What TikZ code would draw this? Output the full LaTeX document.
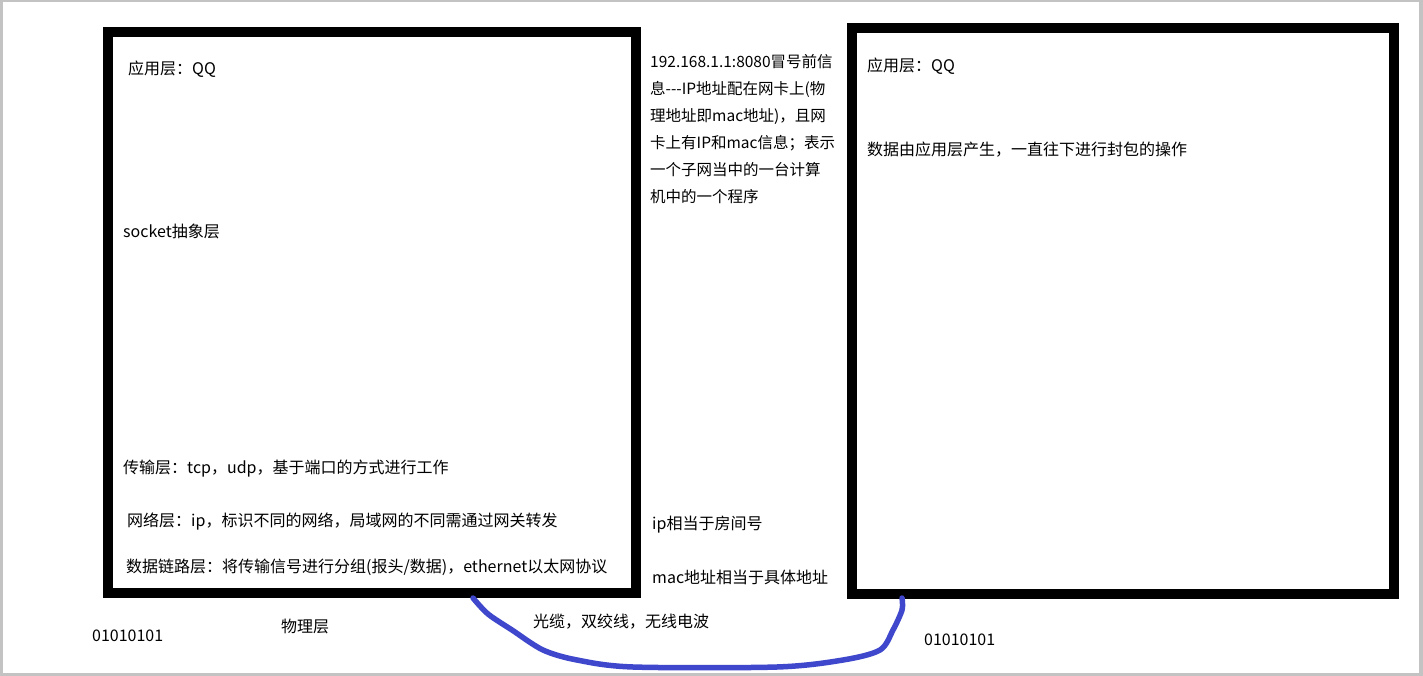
\documentclass[tikz,border=0pt]{standalone}
\usepackage{fontspec}
\setmainfont{Noto Sans CJK SC}
\definecolor{framegray}{RGB}{195,195,195}
\definecolor{wireblue}{RGB}{63,72,204}
\begin{document}
\begin{tikzpicture}[x=1pt,y=-1pt,
  txt/.style={anchor=base west,inner sep=0pt,font=\fontsize{16}{18}\selectfont},
  midtxt/.style={txt,font=\fontsize{15.5}{18}\selectfont},
  layerbox/.style={draw=black,line width=10pt,inner sep=0pt,rectangle},
  wire/.style={draw=wireblue,line width=5.5pt,line cap=round,line join=round}]
\useasboundingbox (0,0) rectangle (1423,676);
\fill[framegray] (0,0) rectangle (1423,676);
\fill[white] (3,2) rectangle (1419,673);
% boxes
\node[layerbox,minimum width=528pt,minimum height=561pt] (box1) at (372,312.5) {};
\node[layerbox,minimum width=542pt,minimum height=565.5pt] (box2) at (1123,311.25) {};
% left box texts
\node[txt] (l1) at (128,75) {应用层：QQ};
\node[txt] (l2) at (123,237) {socket抽象层};
\node[txt] (l3) at (123,473) {传输层：tcp，udp，基于端口的方式进行工作};
\node[txt] (l4) at (127,526) {网络层：ip，标识不同的网络，局域网的不同需通过网关转发};
\node[txt] (l5) at (126,572) {数据链路层：将传输信号进行分组(报头/数据)，ethernet以太网协议};
\node[txt] (b1) at (92,641) {01010101};
\node[txt] (ph) at (281,632) {物理层};
% middle texts
\node[midtxt] (m1) at (650,68) {192.168.1.1:8080冒号前信};
\node[midtxt] (m2) at (650,95) {息-{}-{}-IP地址配在网卡上(物};
\node[midtxt] (m3) at (650,122) {理地址即mac地址)，且网};
\node[midtxt] (m4) at (650,149) {卡上有IP和mac信息；表示};
\node[midtxt] (m5) at (650,176) {一个子网当中的一台计算};
\node[midtxt] (m6) at (650,203) {机中的一个程序};
\node[txt] (ip) at (652,529) {ip相当于房间号};
\node[txt] (mac) at (652,583) {mac地址相当于具体地址};
% right box texts
\node[txt] (r1) at (867,72) {应用层：QQ};
\node[txt] (r2) at (867,156) {数据由应用层产生，一直往下进行封包的操作};
\node[txt] (b2) at (924,645) {01010101};
\node[txt] (cab) at (533,627) {光缆，双绞线，无线电波};
% cable
\coordinate (c1) at (473,598);
\coordinate (c2) at (902,598);
\draw[wire] plot[smooth,tension=0.5] coordinates {(c1) (488,614) (512,630) (543,650) (577,660) (633,667) (777,667) (843,660) (880,650) (893,630) (902,610) (c2)};
\end{tikzpicture}
\end{document}
